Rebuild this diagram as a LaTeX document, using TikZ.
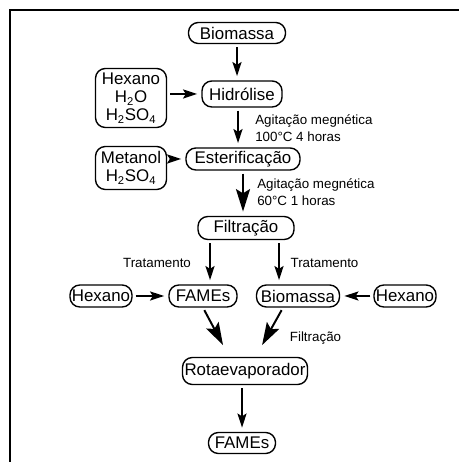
\documentclass[tikz,border=0pt]{standalone}
\usepackage{fontspec}
\setmainfont{Liberation Sans}
\usepackage{tikz}
\usetikzlibrary{arrows.meta}

\tikzset{
  box/.style={draw, line width=1pt, rounded corners=7pt, inner sep=1pt, align=center,
    font=\fontsize{12}{12.8}\selectfont},
  note/.style={align=left, inner sep=0pt, font=\fontsize{9.5}{12.5}\selectfont},
  arr/.style={line width=1.4pt, -{Stealth[length=10pt,width=6.5pt,inset=2pt]}, shorten <=2pt, shorten >=3pt},
  bigarr/.style={arr, -{Stealth[length=16pt,width=10pt,inset=3pt]}}
}

\begin{document}
\begin{tikzpicture}
\useasboundingbox (0,0) rectangle (11.475,11.55);
\draw [line width=1.4pt] (0.25,0) -- (0.25,11.3) -- (11.475,11.3);
% etapas principais
\node [box, minimum width=2.425cm, minimum height=0.525cm] (bio1) at (5.925,10.725) {Biomassa};
\node [box, minimum width=2cm, minimum height=0.65cm] (hid) at (6.05,9.2) {Hidrólise};
\node [box, minimum width=1.775cm, minimum height=1.475cm] (hexa) at (3.275,9.1) {Hexano\\H\textsubscript{2}O\\H\textsubscript{2}SO\textsubscript{4}};
\node [box, minimum width=2.85cm, minimum height=0.55cm] (est) at (6.075,7.575) {Esterificação};
\node [box, minimum width=1.775cm, minimum height=1.075cm] (met) at (3.275,7.35) {Metanol\\H\textsubscript{2}SO\textsubscript{4}};
\node [box, minimum width=2.4cm, minimum height=0.575cm] (filt) at (6.15,5.85) {Filtração};
% separacao
\node [box, minimum width=1.55cm, minimum height=0.55cm] (hexb) at (2.525,4.15) {Hexano};
\node [box, minimum width=1.7cm, minimum height=0.55cm] (fames1) at (5.075,4.15) {FAMEs};
\node [box, minimum width=2.075cm, minimum height=0.55cm] (bio2) at (7.45,4.15) {Biomassa};
\node [box, minimum width=1.55cm, minimum height=0.55cm] (hexc) at (10.125,4.15) {Hexano};
\node [box, minimum width=3.125cm, minimum height=0.675cm] (rot) at (6.125,2.275) {Rotaevaporador};
\node [box, minimum width=1.675cm, minimum height=0.525cm] (fames2) at (6.05,0.475) {FAMEs};
% condicoes
\node [note, anchor=west] (cond1) at (6.375,8.35) {Agitação megnética\\100°C 4 horas};
\node [note, anchor=west] (cond2) at (6.425,6.75) {Agitação megnética\\60°C 1 horas};
\node [note] (trat1) at (3.925,4.975) {Tratamento};
\node [note] (trat2) at (8.1125,4.975) {Tratamento};
\node [note] (filt2) at (7.8875,3.1) {Filtração};
% setas
\draw [arr] (bio1.south) -- (bio1.south |- hid.north);
\draw [arr] (hexa.east |- hid) -- (hid.west);
\draw [arr] ([xshift=-0.1cm]hid.south) -- ([xshift=-0.1cm]hid.south |- est.north);
\draw [arr] (met.east |- est.west) -- (est.west);
\draw [bigarr] (est.south) -- (est.south |- filt.north);
\draw [arr] ([xshift=-0.9cm]filt.south) -- ([xshift=-0.9cm]filt.south |- fames1.north);
\draw [arr] ([xshift=0.825cm]filt.south) -- ([xshift=0.825cm]filt.south |- bio2.north);
\draw [arr] (hexb) -- (fames1);
\draw [arr] (hexc) -- (bio2);
\draw [bigarr] (fames1.south) -- ([xshift=-0.5cm,yshift=0.2cm]rot.north);
\draw [bigarr] ([xshift=-0.375cm]bio2.south) -- ([xshift=0.375cm,yshift=0.2cm]rot.north);
\draw [arr] (rot.south -| fames2) -- (fames2.north);
\end{tikzpicture}
\end{document}
